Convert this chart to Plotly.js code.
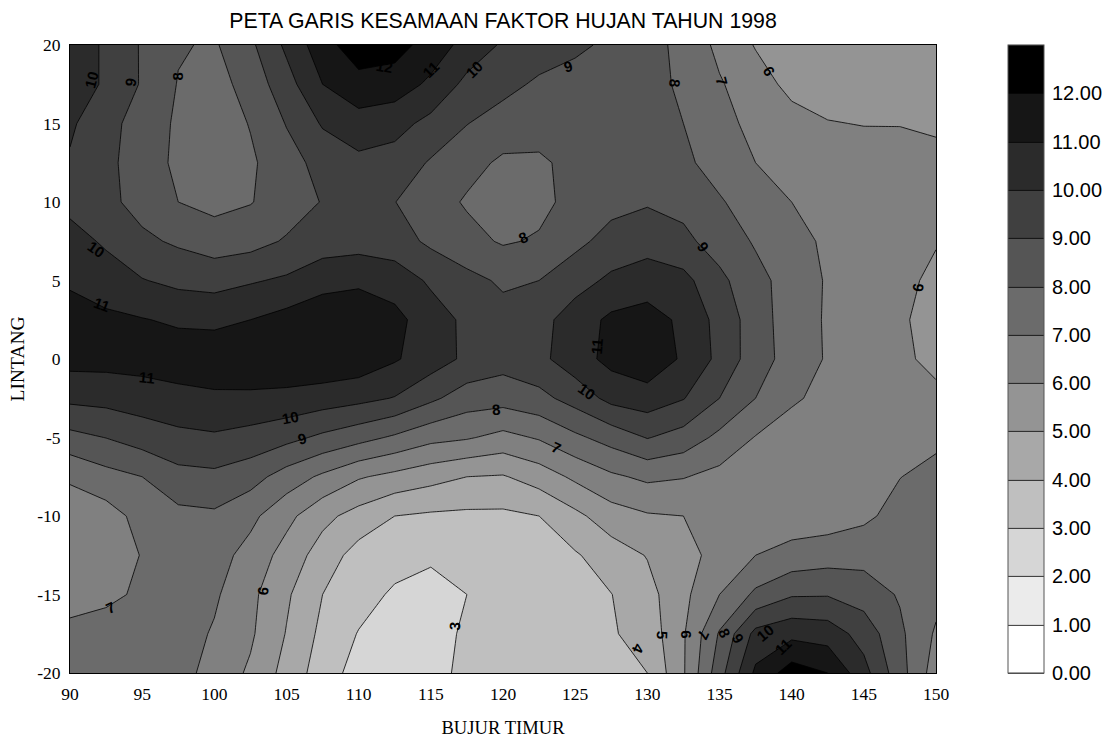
<!DOCTYPE html>
<html><head><meta charset="utf-8">
<script src="https://cdn.plot.ly/plotly-3.0.1.min.js"></script>
<style>html,body{margin:0;padding:0;background:#fff}</style></head>
<body><div id="chart" style="width:1115px;height:738px"></div>
<script>
const bujurTimur = [90,92.5,95,97.5,100,102.5,105,107.5,110,112.5,115,117.5,120,122.5,125,127.5,130,132.5,135,137.5,140,142.5,145,147.5,150];
const lintang = [20,17.5,15,12.5,10,7.5,5,2.5,0,-2.5,-5,-7.5,-10,-12.5,-15,-17.5,-20];
const row20  = [10.6,9.85,8.9,8.09,7.88,8.8,10.2,11.6,12.6,12.4,11.58,10.64,9.87,9.6,9.15,8.85,8.3,7.77,6.74,5.94,5.7,5.6,5.5,5.4,5.3];
const row175 = [10.4,9.9,8.9,7.95,7.6,8.4,9.6,11.0,11.64,11.53,10.8,9.73,9.35,8.81,8.7,8.6,8.3,7.85,7.1,6.4,5.75,5.6,5.55,5.5,5.4];
const row15  = [10.15,9.35,8.55,7.85,7.45,8.05,9.05,10.1,10.6,10.35,9.71,9.03,8.5,8.4,8.4,8.35,8.3,8.0,7.35,6.7,6.33,6.04,5.97,5.97,5.85];
const row125 = [9.9,9.25,8.5,7.8,7.4,7.85,8.6,9.35,9.75,9.59,8.9,8.3,7.85,7.85,8.27,8.3,8.3,8.2,7.6,7.0,6.7,6.5,6.4,6.35,6.28];
const row10  = [9.7,9.25,8.65,8.0,7.7,7.95,8.5,9.05,9.5,9.02,8.4,7.9,7.6,7.75,8.3,8.7,8.9,8.7,8.1,7.5,7.0,6.75,6.6,6.5,6.3];
const row75  = [10.4,9.85,9.2,8.85,8.5,8.65,9.1,9.5,9.6,9.45,8.8,8.3,7.9,8.1,8.75,9.35,9.65,9.25,8.55,7.9,7.3,6.85,6.7,6.4,6.08];
const row5   = [10.85,10.5,10.05,9.75,9.65,9.9,10.15,10.65,10.8,10.55,9.85,9.3,8.85,9.0,9.6,10.2,10.45,10.3,9.25,8.3,7.6,6.9,6.7,6.35,5.71];
const row25  = [11.45,11.2,11.05,10.85,10.75,11.0,11.35,11.65,11.75,11.3,10.45,9.8,9.35,9.65,10.5,11.2,11.45,10.78,9.68,8.49,7.47,6.9,6.55,6.2,5.46];
const row0   = [11.35,11.35,11.4,11.55,11.7,11.8,11.8,11.8,11.65,11.1,10.5,9.8,9.4,9.75,10.55,11.3,11.7,10.85,9.75,8.45,7.6,6.9,6.5,6.23,5.7];
const rowm25 = [10.23,10.32,10.5,10.68,10.8,10.78,10.7,10.5,10.28,9.95,9.2,8.5,8.4,8.7,9.4,10.3,10.55,10.05,9.0,8.0,7.15,6.7,6.6,6.5,6.27];
const rowm5  = [8.7,9.02,9.45,9.75,9.87,9.65,9.3,8.8,8.35,7.85,7.3,7.1,6.7,7.1,7.8,8.4,9.05,8.6,7.75,6.95,6.5,6.3,6.3,6.6,6.79];
const rowm75 = [7.1,7.65,8.0,8.67,8.77,8.4,7.55,6.82,6.1,5.72,5.35,5.0,4.92,5.45,6.2,6.83,7.2,7.05,6.7,6.45,6.35,6.3,6.5,6.98,7.3];
const rowm10 = [6.6,6.57,7.34,7.73,7.83,7.25,6.29,5.28,4.62,4.0,3.85,3.8,3.8,4.0,4.75,5.55,5.9,6.0,6.3,6.4,6.45,6.5,6.8,7.35,7.5];
const rowm125= [6.3,6.65,7.03,7.5,7.4,6.65,5.6,4.55,3.6,3.4,3.1,3.2,3.3,3.45,3.9,4.5,5.05,5.6,6.4,7.0,7.35,7.55,7.65,7.5,7.45];
const rowm15 = [6.6,6.8,7.15,7.3,7.15,6.25,5.15,4.0,3.4,2.85,2.77,3.0,3.3,3.5,3.65,3.98,4.65,5.75,7.0,8.2,8.9,8.93,8.55,7.9,7.3];
const rowm175= [7.27,7.4,7.5,7.45,6.9,6.15,4.95,3.75,2.95,2.7,2.5,3.2,3.45,3.6,3.75,3.9,4.4,5.9,8.1,10.3,10.72,10.55,9.6,8.2,6.87];
const rowm20 = [7.6,7.6,7.6,7.4,6.6,5.85,4.65,3.5,2.6,2.5,2.6,3.3,3.6,3.75,3.85,3.9,4.0,5.9,8.6,11.2,12.5,12.0,10.35,8.4,6.5];
const faktorHujan = [row20,row175,row15,row125,row10,row75,row5,row25,row0,rowm25,rowm5,rowm75,rowm10,rowm125,rowm15,rowm175,rowm20];
const bandColors = ['#ffffff','#ebebeb','#d6d6d6','#bfbfbf','#a8a8a8','#949494','#808080','#6b6b6b','#555555','#404040','#2b2b2b','#161616','#000000'];
const barTicks = [0,1,2,3,4,5,6,7,8,9,10,11,12];
const xTicks = [90,95,100,105,110,115,120,125,130,135,140,145,150];
const yTicks = [-20,-15,-10,-5,0,5,10,15,20];
const lineLabels = [
 ['10',91.5,17.8,-75],['9',94.2,17.6,-80],['8',97.46,17.98,-90],['12',111.8,18.6,10],['11',115,18.43,-45],['10',118,18.43,-45],
 ['9',124.5,18.6,-15],['8',131.9,17.6,95],['7',135.2,17.7,75],['6',138.4,18.35,60],['8',121.4,7.73,-25],['9',133.85,7.15,55],['6',148.75,4.55,-80],
 ['10',91.85,7.0,35],['11',92.2,3.5,20],['11',95.3,-1.2,5],['10',105.3,-3.74,-10],['9',106.1,-5.07,-15],['8',119.5,-3.2,-5],['7',123.7,-5.65,25],
 ['10',125.8,-2.1,35],['11',126.5,0.8,-85],['7',92.8,-15.8,-25],['6',103.35,-14.8,-80],['3',116.65,-17.05,-85],['4',129.35,-18.5,115],
 ['5',131.05,-17.6,92],['6',132.7,-17.55,90],['7',133.9,-17.55,115],['8',135.3,-17.45,65],['9',136.3,-17.8,60],['10',138.2,-17.45,-40],['11',139.4,-18.3,-45]
];
const S = 14, bandStops = [];
bandColors.forEach((c,k)=>{ bandStops.push([k===0?0:(k+0.5)/S,c]); bandStops.push([k===bandColors.length-1?1:(k+1.5)/S,c]); });
const serif = 'Liberation Serif, Times New Roman, serif', sans = 'Liberation Sans, Arial, sans-serif';
const trace = {type:'contour',x:bujurTimur,y:lintang,z:faktorHujan,zmin:0,zmax:13,zauto:false,
 autocontour:false,contours:{start:0,end:13,size:1,coloring:'fill',showlines:true},
 line:{color:'#000',width:0.8,smoothing:0},colorscale:bandStops,connectgaps:true,hoverinfo:'skip',
 colorbar:{x:1.083,xanchor:'left',xpad:0,y:0.5,yanchor:'middle',ypad:0,len:1,lenmode:'fraction',thickness:36,thicknessmode:'pixels',
  tickmode:'array',tickvals:barTicks,ticktext:barTicks.map(v=>v.toFixed(2)),ticks:'outside',ticklen:4,tickcolor:'rgba(0,0,0,0)',tickfont:{family:sans,size:20,color:'#000'},outlinecolor:'#555',outlinewidth:1,borderwidth:0}};
const axisBase = {showgrid:false,zeroline:false,showline:true,mirror:true,linecolor:'#000',linewidth:1,ticks:'outside',ticklen:5,tickcolor:'rgba(0,0,0,0)',tickfont:{family:serif,size:17.5,color:'#000'},tickmode:'array'};
const layout = {width:1115,height:738,paper_bgcolor:'#fff',plot_bgcolor:'#fff',showlegend:false,
 margin:{l:70,r:179,t:45,b:65,pad:0},
 title:{text:'PETA GARIS KESAMAAN FAKTOR HUJAN TAHUN 1998',font:{family:sans,size:21.3,color:'#000'},x:0.5,xref:'paper',xanchor:'center',y:0.9715,yanchor:'middle'},
 xaxis:Object.assign({},axisBase,{range:[90,150],tickvals:xTicks,ticktext:xTicks.map(String),title:{text:'BUJUR TIMUR',font:{family:serif,size:18.6,color:'#000'},standoff:18}}),
 yaxis:Object.assign({},axisBase,{range:[-20,20],tickvals:yTicks,ticktext:yTicks.map(String),title:{text:'LINTANG',font:{family:serif,size:19.5,color:'#000'},standoff:7}}),
 annotations:lineLabels.map(l=>({x:l[1],y:l[2],xref:'x',yref:'y',text:'<b>'+l[0]+'</b>',showarrow:false,textangle:l[3],font:{family:sans,size:15,color:'#000'},borderpad:0}))};
Plotly.newPlot('chart',[trace],layout,{displayModeBar:false,staticPlot:true});
</script></body></html>
